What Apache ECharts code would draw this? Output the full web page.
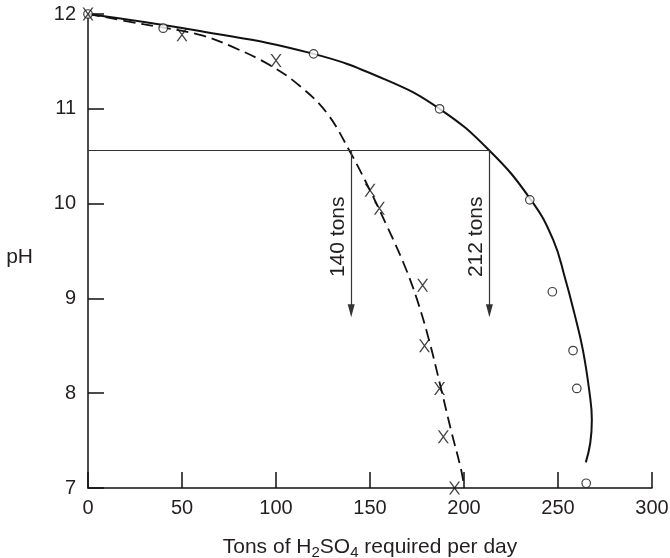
<!DOCTYPE html>
<html><head><meta charset="utf-8">
<script src="https://cdn.jsdelivr.net/npm/echarts@6/dist/echarts.min.js"></script>
<style>html,body{margin:0;padding:0;background:#fff}#c{width:670px;height:558px}</style>
</head><body><div id="c"></div>
<script>
// Observed points (circles)
const circleTons = [0, 40, 120, 187, 235, 247, 258, 260, 265];
const circlePH   = [12, 11.85, 11.58, 11.0, 10.04, 9.07, 8.45, 8.05, 7.05];
// Observed points (crosses)
const crossTons = [0, 50, 100, 150, 155, 178, 179, 187, 189, 195];
const crossPH   = [12, 11.78, 11.51, 10.14, 9.95, 9.14, 8.5, 8.05, 7.54, 7.0];
// Fitted solid curve
const solidTons = [0, 59.5, 118, 158, 187, 213.5, 235.6, 247.4, 253.8, 258.6, 263.2, 266.8, 268.0, 267.2, 264.8];
const solidPH   = [12, 11.82, 11.59, 11.31, 11.0, 10.56, 10.04, 9.62, 9.21, 8.85, 8.46, 8.0, 7.72, 7.48, 7.27];
// Fitted dashed curve
const dashTons = [0, 30, 59.5, 77.2, 97.7, 112.7, 126.9, 139.3, 150.0, 159.1, 168.1, 175.0, 181.4, 187.3, 193.1, 198.5, 200.1];
const dashPH   = [12, 11.89, 11.78, 11.65, 11.45, 11.24, 10.96, 10.55, 10.14, 9.76, 9.36, 8.99, 8.56, 8.09, 7.61, 7.19, 7.01];
// Reference construction
const refPH = 10.56;
const refEndTons = 213.5;
const arrowTons = [140, 213.5];
const arrowEndPH = 8.87;
const arrowLabels = ['140 tons', '212 tons'];
const arrowLabelPH = 9.65;
// Axes
const xMin = 0, xMax = 300, xStep = 50;
const yMin = 7, yMax = 12, yStep = 1;

const zip = (a, b) => a.map((v, i) => [v, b[i]]);
const FONT = '"Liberation Sans", Arial, Helvetica, sans-serif';
const TXT = '#231f20';
const axisLineStyle = { color: '#111', width: 1.5 };

const chart = echarts.init(document.getElementById('c'), null, { renderer: 'canvas' });
chart.setOption({
  animation: false,
  backgroundColor: '#fff',
  textStyle: { fontFamily: FONT },
  grid: { left: 88, top: 14, width: 564, height: 474, containLabel: false, outerBoundsMode: 'none' },
  xAxis: {
    type: 'value', min: xMin, max: xMax, interval: xStep,
    axisLine: { show: true, onZero: false, lineStyle: axisLineStyle },
    axisTick: { show: true, inside: true, length: 16, lineStyle: axisLineStyle },
    axisLabel: { fontSize: 20, color: TXT, margin: 10, fontFamily: FONT },
    splitLine: { show: false },
    name: 'Tons of H{sub|2}SO{sub|4} required per day',
    nameLocation: 'middle', nameGap: 46,
    nameTextStyle: {
      fontSize: 21, color: TXT, fontFamily: FONT, lineHeight: 26,
      rich: { sub: { fontSize: 15, lineHeight: 12, verticalAlign: 'bottom', color: TXT, fontFamily: FONT } }
    }
  },
  yAxis: {
    type: 'value', min: yMin, max: yMax, interval: yStep,
    axisLine: { show: true, onZero: false, lineStyle: axisLineStyle },
    axisTick: { show: true, inside: true, length: 16, lineStyle: axisLineStyle },
    axisLabel: { fontSize: 20, color: TXT, margin: 12, fontFamily: FONT },
    splitLine: { show: false }
  },
  series: [
    {
      name: 'solid', type: 'line', data: zip(solidTons, solidPH), smooth: 0.45,
      showSymbol: false, symbol: 'none', z: 2,
      lineStyle: { color: '#111', width: 2 }
    },
    {
      name: 'dashed', type: 'line', data: zip(dashTons, dashPH), smooth: 0.4,
      showSymbol: false, symbol: 'none', z: 2,
      lineStyle: { color: '#111', width: 1.8, type: [12, 6] }
    },
    {
      name: 'ref', type: 'line', data: [], z: 1,
      markLine: {
        silent: true, animation: false,
        lineStyle: { color: '#333', width: 1.2, type: 'solid' },
        label: { show: false },
        symbol: ['none', 'none'],
        data: [
          [{ coord: [xMin, refPH], symbol: 'none' }, { coord: [refEndTons, refPH], symbol: 'none' }],
          ...arrowTons.map(t => [
            { coord: [t, refPH], symbol: 'none' },
            { coord: [t, arrowEndPH], symbol: 'triangle', symbolSize: [7, 13] }
          ])
        ]
      }
    },
    {
      name: 'circles', type: 'scatter', data: zip(circleTons, circlePH), z: 5,
      symbol: 'circle', symbolSize: 8.5,
      itemStyle: { color: '#fff', borderColor: '#111', borderWidth: 1.2 }
    },
    {
      name: 'crosses', type: 'scatter', data: zip(crossTons, crossPH), z: 6,
      symbol: 'path://M0,0L1.6,0L11,13L9.4,13Z M9.4,0L11,0L1.6,13L0,13Z',
      symbolSize: [11, 13],
      itemStyle: { color: '#111' }
    }
  ]
});

const graphics = arrowTons.map((t, i) => {
  const p = chart.convertToPixel({ gridIndex: 0 }, [t, arrowLabelPH]);
  return {
    type: 'text', x: p[0] - 13, y: p[1], rotation: Math.PI / 2, z: 10,
    style: { text: arrowLabels[i], fontSize: 21, fontFamily: FONT, fill: TXT, align: 'center', verticalAlign: 'middle' }
  };
});
graphics.push({
  type: 'text', x: 33, y: 257, z: 10,
  style: { text: 'pH', fontSize: 21, fontFamily: FONT, fill: TXT, align: 'right', verticalAlign: 'middle' }
});
chart.setOption({ graphic: graphics });
</script>
</body></html>
